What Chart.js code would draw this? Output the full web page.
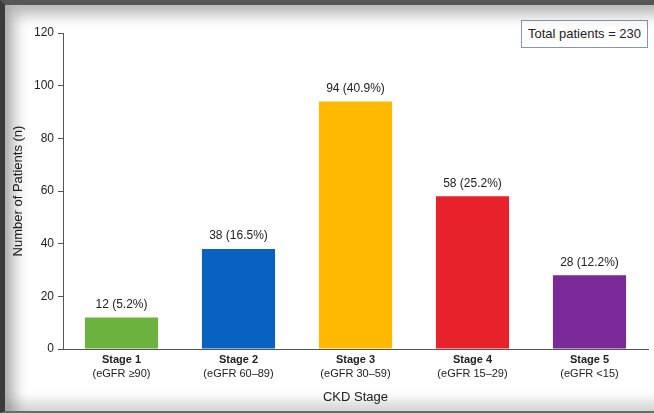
<!DOCTYPE html>
<html>
<head>
<meta charset="utf-8">
<script src="https://cdn.jsdelivr.net/npm/chart.js@4/dist/chart.umd.min.js"></script>
<style>
  html, body { margin: 0; padding: 0; background: #fff; }
  #wrap { position: relative; width: 654px; height: 413px; overflow: hidden; background: #fff; }
  #c { position: absolute; left: 0; top: 0; }
  #frame {
    position: absolute; left: 0; top: 0; right: -10px; bottom: 0;
    border-left: 5px solid #3b3b3b; border-top: 5px solid #575757; border-bottom: 2px solid #6a6a6a;
    box-shadow: inset 10px 10px 14px rgba(0,0,0,0.28), inset 0 -10px 12px rgba(0,0,0,0.16);
    pointer-events: none;
  }
  #total {
    position: absolute; left: 521px; top: 20px; width: 125px; height: 26px;
    border: 1px solid #8796b0; background: #fff;
    font: 13px "Liberation Sans", Arial, sans-serif; color: #222;
    line-height: 26px; text-align: center;
  }
</style>
</head>
<body>
<div id="wrap">
  <canvas id="c" width="654" height="413"></canvas>
  <div id="total">Total patients = 230</div>
  <div id="frame"></div>
</div>
<script>
// CKD stage distribution
const stages = ['Stage 1', 'Stage 2', 'Stage 3', 'Stage 4', 'Stage 5'];
const egfrRanges = ['(eGFR \u226590)', '(eGFR 60\u201389)', '(eGFR 30\u201359)', '(eGFR 15\u201329)', '(eGFR <15)'];
const patients = [12, 38, 94, 58, 28];
const percents = ['5.2', '16.5', '40.9', '25.2', '12.2'];
const barColors = ['#6cb23e', '#0862c2', '#ffb900', '#e7222a', '#7a2999'];
const yTicks = [0, 20, 40, 60, 80, 100, 120];

const FONT = '"Liberation Sans", Arial, sans-serif';
const TEXT = '#222';
const AXIS = '#555';

// writes "n (x%)" above each bar
const valueLabels = {
  id: 'valueLabels',
  afterDatasetsDraw(chart) {
    const ctx = chart.ctx;
    const meta = chart.getDatasetMeta(0);
    ctx.save();
    ctx.font = '12px ' + FONT;
    ctx.fillStyle = TEXT;
    ctx.textAlign = 'center';
    ctx.textBaseline = 'bottom';
    meta.data.forEach((bar, i) => {
      ctx.fillText(patients[i] + ' (' + percents[i] + '%)', bar.x, bar.y - 7);
    });
    ctx.restore();
  }
};

new Chart(document.getElementById('c'), {
  type: 'bar',
  data: {
    labels: stages,
    datasets: [{
      data: patients,
      backgroundColor: barColors,
      borderWidth: 0,
      categoryPercentage: 1,
      barPercentage: 0.625
    }]
  },
  options: {
    responsive: false,
    animation: false,
    devicePixelRatio: 1,
    layout: { padding: { left: 0, right: 6, top: 33, bottom: 0 } },
    plugins: { legend: { display: false }, tooltip: { enabled: false } },
    scales: {
      x: {
        type: 'category',
        position: 'bottom',
        weight: 0,
        grid: { display: false, drawTicks: false },
        border: { display: true, color: AXIS, width: 1 },
        ticks: { color: TEXT, font: { family: FONT, size: 11, weight: 'bold' }, padding: 4, maxRotation: 0 },
        afterFit(s) { s.height = 16; }
      },
      x2: {
        type: 'category',
        position: 'bottom',
        weight: 1,
        labels: egfrRanges,
        grid: { display: false, drawTicks: false },
        border: { display: false },
        ticks: { color: TEXT, font: { family: FONT, size: 11 }, padding: 2, maxRotation: 0 },
        title: { display: true, text: 'CKD Stage', color: TEXT, font: { family: FONT, size: 13 }, padding: { top: 8, bottom: 8 } },
        afterFit(s) { s.height = 48; }
      },
      y: {
        min: 0,
        max: 120,
        afterBuildTicks(s) { s.ticks = yTicks.map(v => ({ value: v })); },
        grid: { drawOnChartArea: false, drawTicks: true, tickLength: 5, color: AXIS },
        border: { display: true, color: AXIS, width: 1 },
        ticks: { color: TEXT, font: { family: FONT, size: 12 }, padding: 4 },
        title: { display: true, text: 'Number of Patients (n)', color: TEXT, font: { family: FONT, size: 13 }, padding: { top: 11, bottom: 11 } },
        afterFit(s) { s.width = 63; }
      }
    }
  },
  plugins: [valueLabels]
});
</script>
</body>
</html>
